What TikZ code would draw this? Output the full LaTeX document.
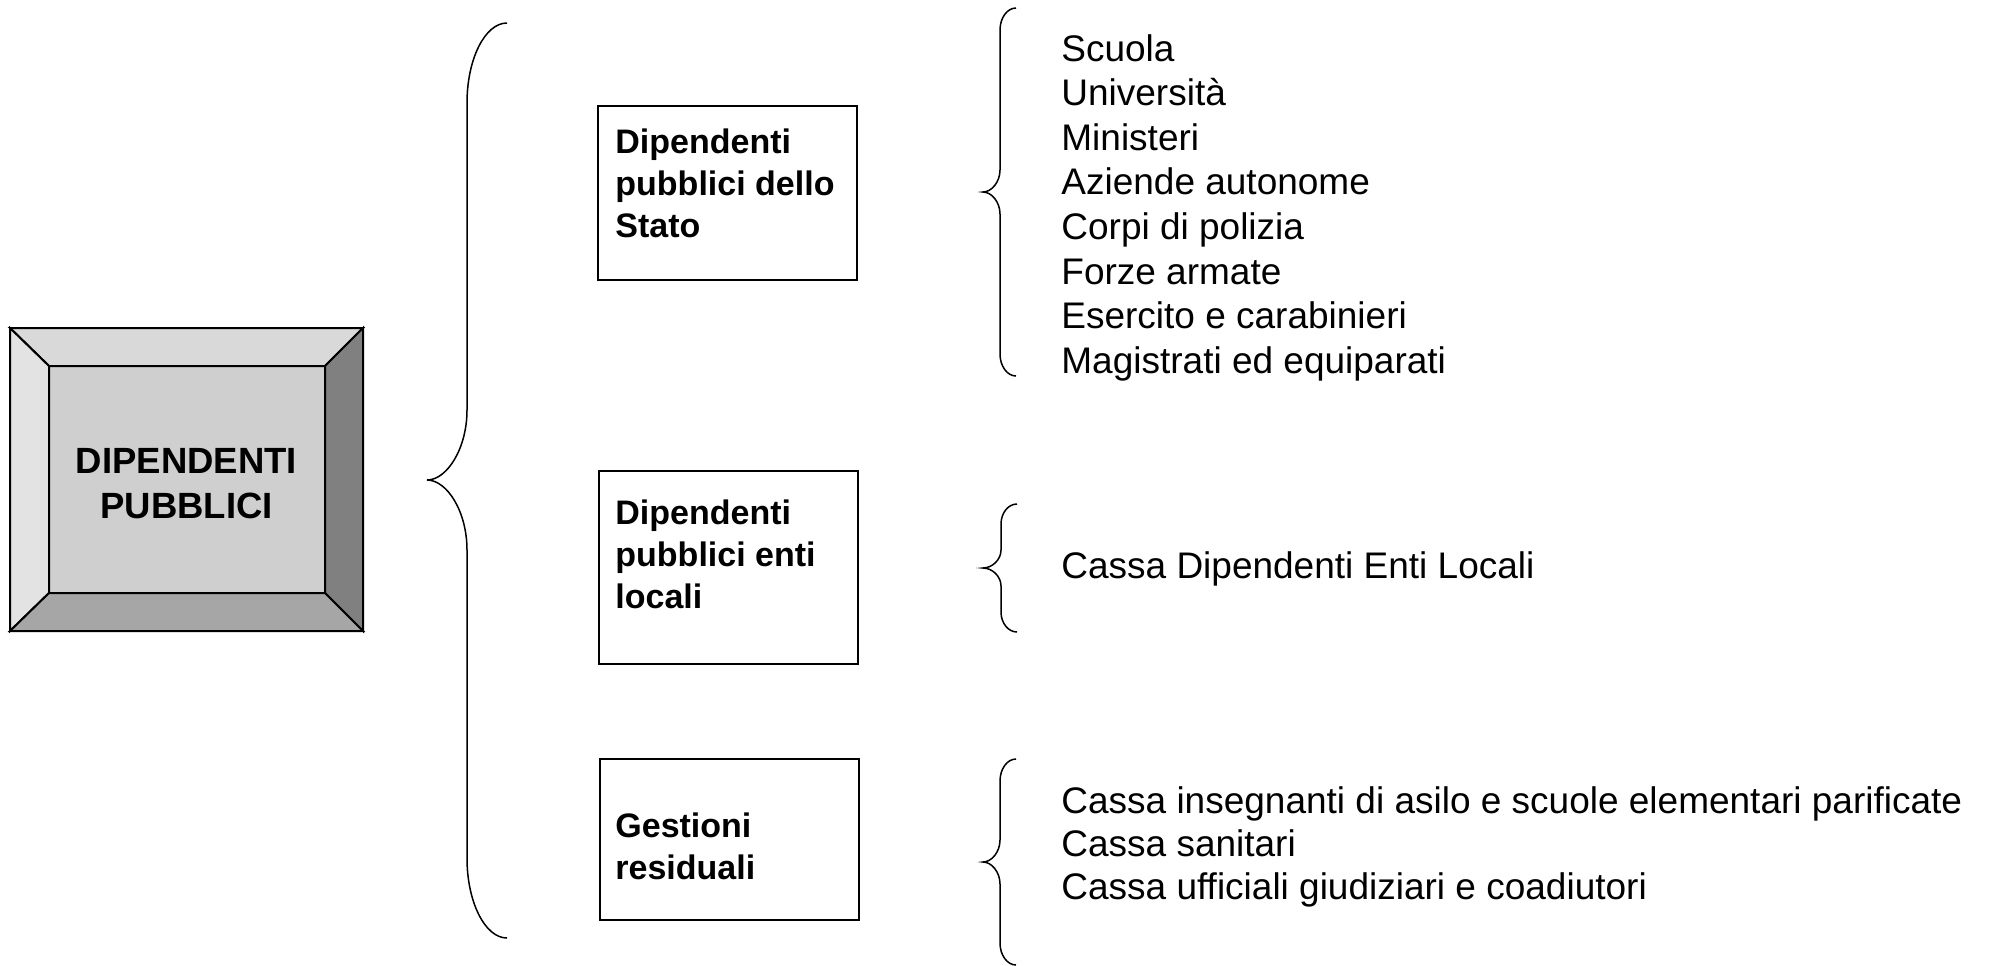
\documentclass[tikz,border=0pt]{standalone}
\usepackage{fontspec}
\setmainfont{Liberation Sans}
\definecolor{bvtop}{gray}{0.85}
\definecolor{bvleft}{gray}{0.89}
\definecolor{bvmid}{gray}{0.81}
\definecolor{bvbottom}{gray}{0.65}
\definecolor{bvright}{gray}{0.50}
\newcommand\curlybrace[8]{% xe xv xc yt ym yb re rm
  \draw[braceline] (#1,#4) .. controls ({#2+0.45*(#1-#2)},#4) and (#2,{#4+0.45*#7}) .. (#2,{#4+#7})
    -- (#2,{#5-#8}) .. controls (#2,{#5-0.45*#8}) and ({#3+0.5*(#2-#3)},#5) .. (#3,#5)
    .. controls ({#3+0.5*(#2-#3)},#5) and (#2,{#5+0.45*#8}) .. (#2,{#5+#8})
    -- (#2,{#6-#7}) .. controls (#2,{#6-0.45*#7}) and ({#2+0.45*(#1-#2)},#6) .. (#1,#6);}
\begin{document}
\begin{tikzpicture}[x=0.5pt,y=-0.5pt,
  bevel/.style={draw=black,line width=1pt,line join=miter},
  plainbox/.style={draw=black,line width=1pt,minimum width=129.5pt,inner sep=0pt},
  boxtext/.style={anchor=base west,inner sep=0pt,font=\fontsize{17}{21}\selectfont\bfseries},
  listtext/.style={anchor=base west,inner sep=0pt},
  braceline/.style={draw=black,line width=0.75pt}]
\useasboundingbox (0,0) rectangle (1992,965);

% bevelled main box
\filldraw[bevel,fill=bvmid] (49,366) rectangle (325,593);
\filldraw[bevel,fill=bvtop] (10,328) -- (363,328) -- (325,366) -- (49,366) -- cycle;
\filldraw[bevel,fill=bvleft] (10,328) -- (49,366) -- (49,593) -- (10,631) -- cycle;
\filldraw[bevel,fill=bvright] (363,328) -- (363,631) -- (325,593) -- (325,366) -- cycle;
\filldraw[bevel,fill=bvbottom] (10,631) -- (49,593) -- (325,593) -- (363,631) -- cycle;
\draw[bevel] (10,328) rectangle (363,631);
\node[anchor=base,inner sep=0pt,font=\fontsize{18.25}{22.5}\selectfont\bfseries] (dp) at (186.5,473)
  {\begin{tabular}[t]{@{}c@{}}DIPENDENTI\\PUBBLICI\end{tabular}};

% big brace
\curlybrace{507}{467}{427}{23}{480}{938}{80}{70}

% boxes
\node[plainbox,minimum height=87pt] (b1) at (727,193) {};
\node[plainbox,minimum height=96.5pt] (b2) at (728.5,567.5) {};
\node[plainbox,minimum height=80.5pt] (b3) at (729,839.5) {};
\node[boxtext] (t1) at (615,153) {\begin{tabular}[t]{@{}l@{}}Dipendenti\\pubblici dello\\Stato\end{tabular}};
\node[boxtext] (t2) at (615,524) {\begin{tabular}[t]{@{}l@{}}Dipendenti\\pubblici enti\\locali\end{tabular}};
\node[boxtext] (t3) at (615,837) {\begin{tabular}[t]{@{}l@{}}Gestioni\\residuali\end{tabular}};

% small braces
\curlybrace{1016}{1000}{983}{8}{192}{376}{22}{22}
\curlybrace{1017}{1001}{983}{504}{568}{632}{20}{18}
\curlybrace{1016}{1000}{983}{759}{862}{965}{22}{22}

% lists
\node[listtext,font=\fontsize{18.5}{22.3}\selectfont] (l1) at (1061,61)
  {\begin{tabular}[t]{@{}l@{}}Scuola\\Università\\Ministeri\\Aziende autonome\\Corpi di polizia\\Forze armate\\Esercito e carabinieri\\Magistrati ed equiparati\end{tabular}};
\node[listtext,font=\fontsize{18.5}{22.3}\selectfont] (l2) at (1061,578) {Cassa Dipendenti Enti Locali};
\node[listtext,font=\fontsize{18.5}{21.5}\selectfont] (l3) at (1061,813)
  {\begin{tabular}[t]{@{}l@{}}Cassa insegnanti di asilo e scuole elementari parificate\\Cassa sanitari\\Cassa ufficiali giudiziari e coadiutori\end{tabular}};
\end{tikzpicture}
\end{document}
